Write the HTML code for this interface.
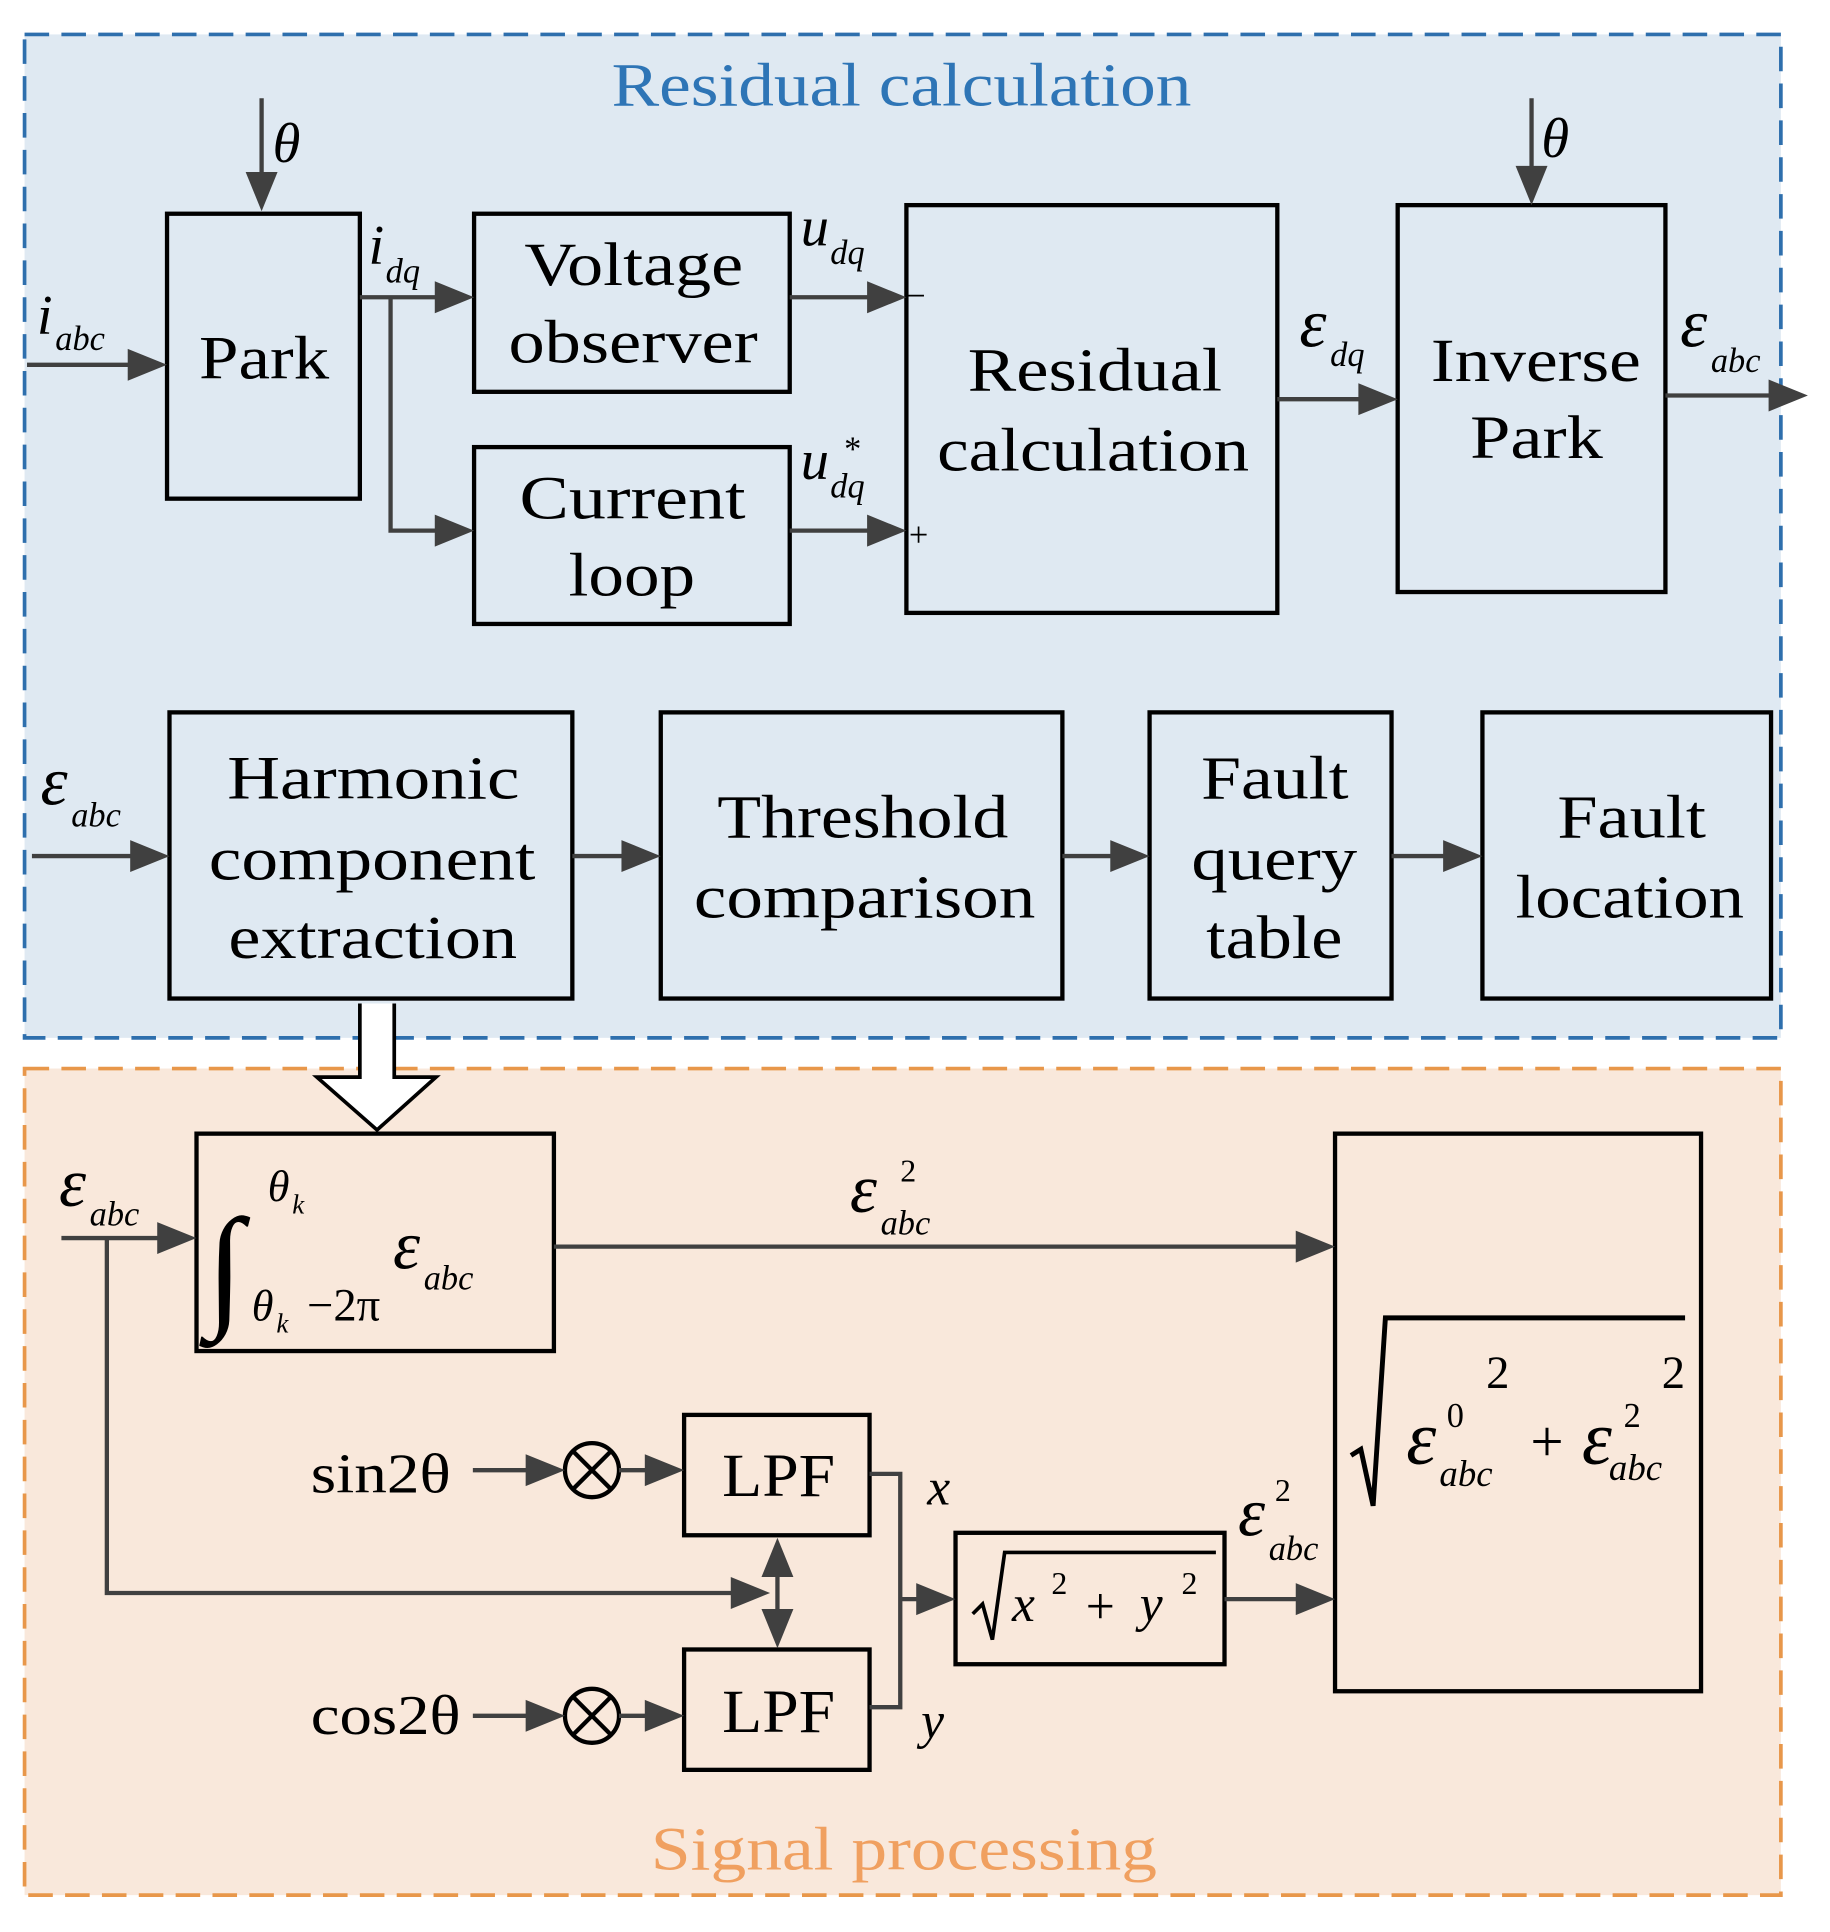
<!DOCTYPE html>
<html><head><meta charset="utf-8"><style>
html,body{margin:0;padding:0;background:#fff}
svg{display:block}
text{font-family:"Liberation Serif",serif;fill:#000}
.b{font-size:50px;text-anchor:middle}
.i{font-style:italic}
</style></head><body>
<svg width="1830" height="1932" viewBox="0 0 1490 1573" xmlns="http://www.w3.org/2000/svg">
<rect x="20" y="28" width="1430" height="817" fill="#dfe9f2" stroke="#2e6fad" stroke-width="3" stroke-dasharray="20,10"/>
<rect x="20" y="870" width="1430" height="673" fill="#f9e8db" stroke="#e8974a" stroke-width="3" stroke-dasharray="20,10"/>
<text x="498" y="86" style="font-size:50px;fill:#2e75b6" textLength="472" lengthAdjust="spacingAndGlyphs">Residual calculation</text>
<text x="530" y="1522" style="font-size:50px;fill:#f0a060" textLength="412" lengthAdjust="spacingAndGlyphs">Signal processing</text>

<g fill="none" stroke="#000" stroke-width="3.5">
<rect x="136" y="174" width="157" height="232"/>
<rect x="386" y="174" width="257" height="145"/>
<rect x="386" y="364" width="257" height="144"/>
<rect x="738" y="167" width="302" height="332"/>
<rect x="1138" y="167" width="218" height="315"/>
<rect x="138" y="580" width="328" height="233"/>
<rect x="538" y="580" width="327" height="233"/>
<rect x="936" y="580" width="197" height="233"/>
<rect x="1207" y="580" width="235" height="233"/>
<rect x="160" y="923" width="291" height="177"/>
<rect x="1087" y="923" width="298" height="454"/>
<rect x="557" y="1152" width="151" height="98"/>
<rect x="557" y="1343" width="151" height="98"/>
<rect x="778" y="1248" width="219" height="107"/>
<circle cx="482" cy="1197" r="22"/><path d="M466 1181L498 1213M498 1181L466 1213"/>
<circle cx="482" cy="1397" r="22"/><path d="M466 1381L498 1413M498 1381L466 1413"/>
</g>

<g fill="none" stroke="#404040" stroke-width="3.5">
<path d="M213 80V150M1247 80V145M22 297H112M293 242H362M318 242V432H362M643 242H715M643 432H715M1040 325H1115M1356 322H1450M26 697H115M466 697H515M865 697H913M1133 697H1184M50 1008H137M87 1008V1297H600M451 1015H1063M385 1197H437M504 1197H534M385 1397H437M504 1397H534M708 1200H733V1390H708M733 1302H756M997 1302H1063M633 1272V1321"/>
<path d="M293 817V877H258L307 920L355 877H321V817" fill="#fff" stroke="#000" stroke-width="3"/>
</g>
<g fill="#404040">
<path d="M200 140L213 172L226 140Z"/><path d="M1234 135L1247 167L1260 135Z"/>
<path d="M104 284L136 297L104 310Z"/><path d="M354 229L386 242L354 255Z"/><path d="M354 419L386 432L354 445Z"/>
<path d="M706 229L738 242L706 255Z"/><path d="M706 419L738 432L706 445Z"/>
<path d="M1106 312L1138 325L1106 338Z"/><path d="M1440 309L1472 322L1440 335Z"/>
<path d="M106 684L138 697L106 710Z"/><path d="M506 684L538 697L506 710Z"/><path d="M904 684L936 697L904 710Z"/><path d="M1175 684L1207 697L1175 710Z"/>
<path d="M128 995L160 1008L128 1021Z"/><path d="M1055 1002L1087 1015L1055 1028Z"/>
<path d="M428 1184L460 1197L428 1210Z"/><path d="M525 1184L557 1197L525 1210Z"/>
<path d="M428 1384L460 1397L428 1410Z"/><path d="M525 1384L557 1397L525 1410Z"/>
<path d="M746 1289L778 1302L746 1315Z"/><path d="M1055 1289L1087 1302L1055 1315Z"/>
<path d="M595 1284L627 1297L595 1310Z"/>
<path d="M620 1284L633 1252L646 1284Z"/><path d="M620 1310L633 1342L646 1310Z"/>
</g>

<g style="font-size:50px" lengthAdjust="spacingAndGlyphs">
<text x="162" y="308" textLength="106" lengthAdjust="spacingAndGlyphs">Park</text>
<text x="427" y="232" textLength="178" lengthAdjust="spacingAndGlyphs">Voltage</text><text x="414" y="295" textLength="203" lengthAdjust="spacingAndGlyphs">observer</text>
<text x="423" y="422" textLength="184" lengthAdjust="spacingAndGlyphs">Current</text><text x="463" y="485" textLength="103" lengthAdjust="spacingAndGlyphs">loop</text>
<text x="788" y="318" textLength="207" lengthAdjust="spacingAndGlyphs">Residual</text><text x="763" y="383" textLength="254" lengthAdjust="spacingAndGlyphs">calculation</text>
<text x="1165" y="310" textLength="171" lengthAdjust="spacingAndGlyphs">Inverse</text><text x="1197" y="373" textLength="108" lengthAdjust="spacingAndGlyphs">Park</text>
<text x="185" y="650" textLength="238" lengthAdjust="spacingAndGlyphs">Harmonic</text><text x="170" y="716" textLength="266" lengthAdjust="spacingAndGlyphs">component</text><text x="186" y="780" textLength="235" lengthAdjust="spacingAndGlyphs">extraction</text>
<text x="584" y="682" textLength="237" lengthAdjust="spacingAndGlyphs">Threshold</text><text x="565" y="747" textLength="278" lengthAdjust="spacingAndGlyphs">comparison</text>
<text x="978" y="650" textLength="120" lengthAdjust="spacingAndGlyphs">Fault</text><text x="970" y="716" textLength="135" lengthAdjust="spacingAndGlyphs">query</text><text x="982" y="780" textLength="111" lengthAdjust="spacingAndGlyphs">table</text>
<text x="1268" y="682" textLength="121" lengthAdjust="spacingAndGlyphs">Fault</text><text x="1234" y="747" textLength="186" lengthAdjust="spacingAndGlyphs">location</text>
<text x="588" y="1218" textLength="92" lengthAdjust="spacingAndGlyphs">LPF</text><text x="588" y="1410" textLength="92" lengthAdjust="spacingAndGlyphs">LPF</text>
<text x="253" y="1215" style="font-size:46px" textLength="114" lengthAdjust="spacingAndGlyphs">sin2θ</text>
<text x="253" y="1412" style="font-size:46px" textLength="122" lengthAdjust="spacingAndGlyphs">cos2θ</text>
</g>

<g class="i">
<text x="222" y="132" style="font-size:46px">θ</text>
<text x="1255" y="128" style="font-size:46px">θ</text>
<text x="30" y="272" style="font-size:46px">i</text><text x="45" y="285" style="font-size:28px">abc</text>
<text x="300" y="215" style="font-size:46px">i</text><text x="314" y="230" style="font-size:28px">dq</text>
<text x="652" y="200" style="font-size:46px">u</text><text x="676" y="215" style="font-size:28px">dq</text>
<text x="652" y="390" style="font-size:46px">u</text><text x="676" y="405" style="font-size:28px">dq</text><text x="686" y="375" style="font-size:28px">*</text>
<text x="1058" y="282" style="font-size:56px">ε</text><text x="1083" y="298" style="font-size:28px">dq</text>
<text x="1368" y="282" style="font-size:56px">ε</text><text x="1393" y="303" style="font-size:28px">abc</text>
<text x="33" y="655" style="font-size:56px">ε</text><text x="58" y="673" style="font-size:28px">abc</text>
<text x="48" y="982" style="font-size:56px">ε</text><text x="73" y="998" style="font-size:28px">abc</text>
<text x="692" y="987" style="font-size:56px">ε</text><text x="717" y="1005" style="font-size:28px">abc</text>
<text x="1008" y="1250" style="font-size:56px">ε</text><text x="1033" y="1270" style="font-size:28px">abc</text>
<text x="755" y="1225" style="font-size:42px">x</text>
<text x="750" y="1415" style="font-size:42px">y</text>
<text x="218" y="978" style="font-size:36px">θ</text><text x="238" y="988" style="font-size:22px">k</text>
<text x="205" y="1075" style="font-size:36px">θ</text><text x="225" y="1085" style="font-size:22px">k</text>
<text x="320" y="1033" style="font-size:56px">ε</text><text x="345" y="1050" style="font-size:28px">abc</text>
<text x="824" y="1320" style="font-size:42px">x</text><text x="928" y="1320" style="font-size:42px">y</text>
<text x="1145" y="1192" style="font-size:62px">ε</text><text x="1172" y="1210" style="font-size:30px">abc</text>
<text x="1288" y="1192" style="font-size:62px">ε</text><text x="1310" y="1205" style="font-size:30px">abc</text>
</g>
<text x="738" y="250" style="font-size:28px">−</text><text x="740" y="445" style="font-size:28px">+</text>
<text x="733" y="962" style="font-size:26px">2</text>
<text x="1038" y="1222" style="font-size:26px">2</text>
<text x="168" y="1068" style="font-size:110px">∫</text>
<text x="250" y="1075" style="font-size:38px">−2π</text>
<text x="856" y="1298" style="font-size:26px">2</text><text x="884" y="1322" style="font-size:42px">+</text><text x="962" y="1298" style="font-size:26px">2</text>
<path d="M792 1314L800 1306L808 1335L818 1264H990" fill="none" stroke="#000" stroke-width="3"/>
<text x="1178" y="1162" style="font-size:28px">0</text><text x="1210" y="1130" style="font-size:38px">2</text>
<text x="1246" y="1190" style="font-size:48px">+</text>
<text x="1322" y="1162" style="font-size:28px">2</text><text x="1353" y="1130" style="font-size:38px">2</text>
<path d="M1100 1185L1108 1180L1118 1226L1128 1073H1372" fill="none" stroke="#000" stroke-width="4"/>
</svg>
</body></html>
